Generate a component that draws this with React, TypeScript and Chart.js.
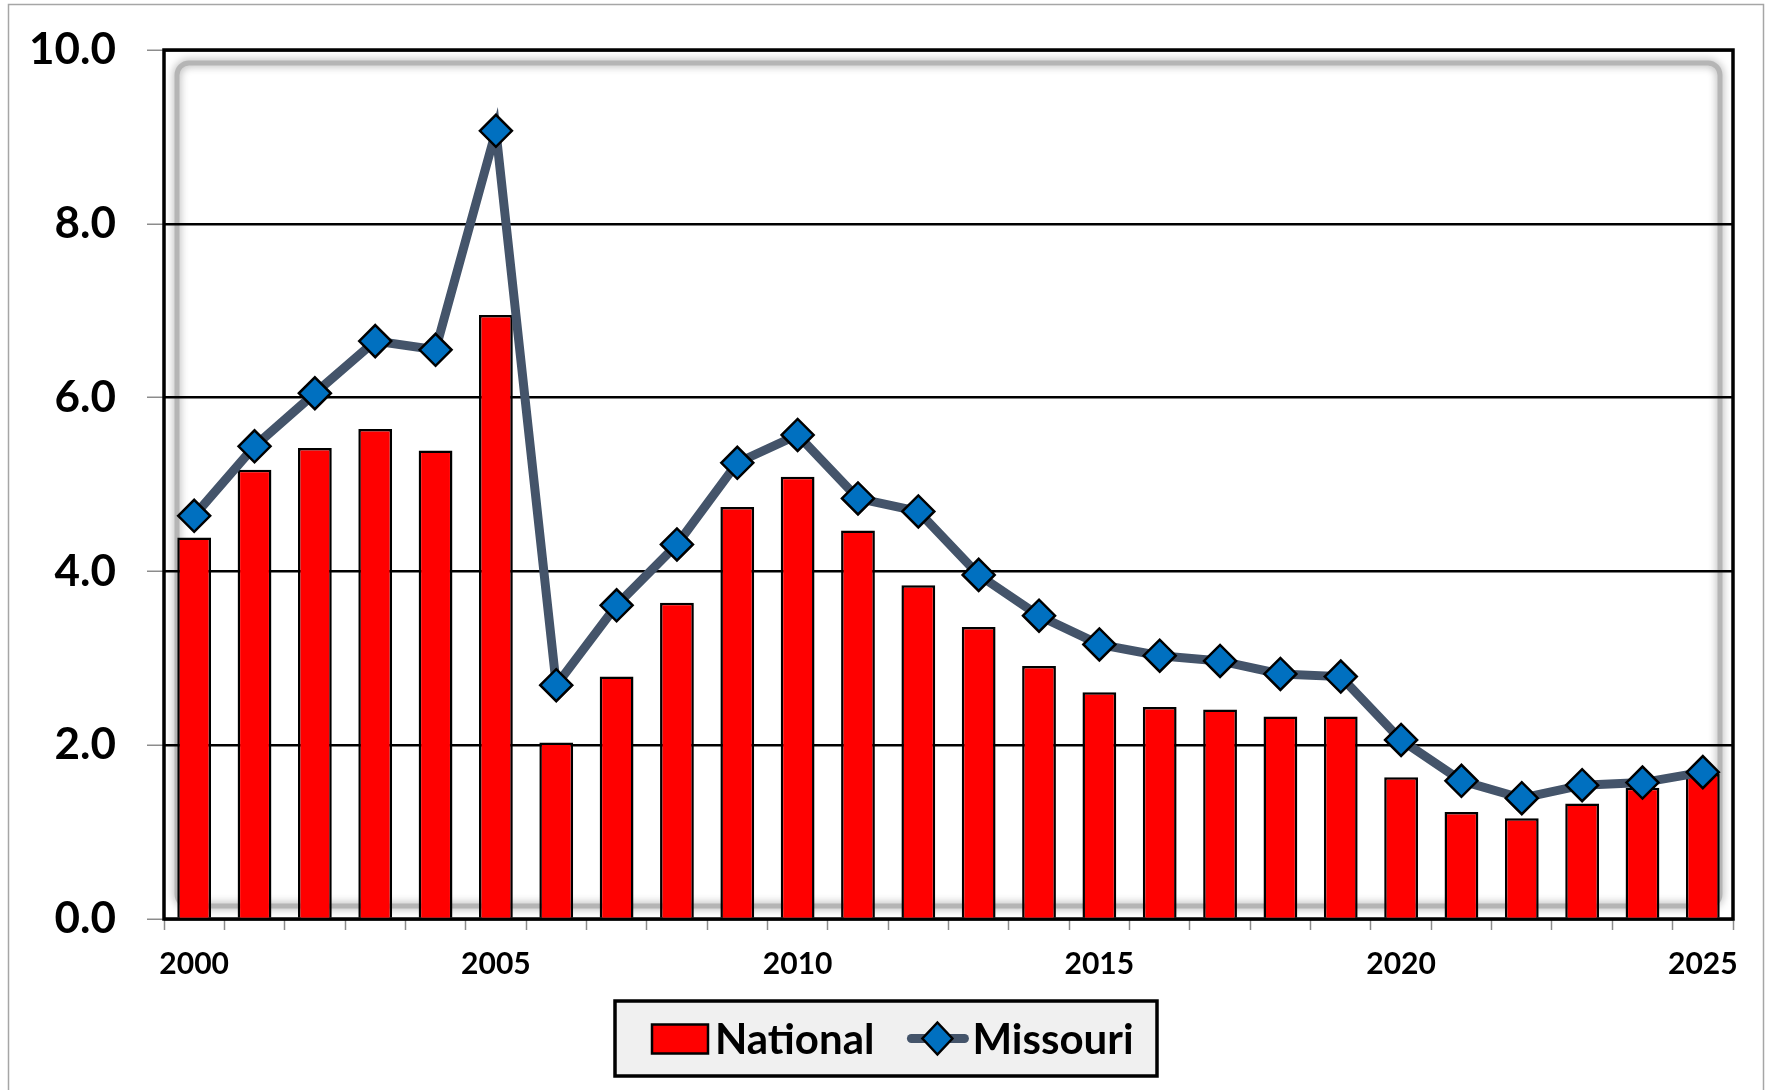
import React, { useEffect, useRef } from "react";
import { Chart, registerables } from "chart.js";

Chart.register(...registerables);

const years = [
  "2000", "2001", "2002", "2003", "2004", "2005", "2006", "2007", "2008", "2009",
  "2010", "2011", "2012", "2013", "2014", "2015", "2016", "2017", "2018", "2019",
  "2020", "2021", "2022", "2023", "2024", "2025",
];

const nationalValues = [
  4.39, 5.17, 5.42, 5.64, 5.39, 6.95, 2.03, 2.79, 3.64, 4.74,
  5.09, 4.47, 3.84, 3.36, 2.91, 2.61, 2.44, 2.41, 2.33, 2.33,
  1.63, 1.23, 1.16, 1.33, 1.51, 1.67,
];

const missouriValues = [
  4.64, 5.44, 6.05, 6.65, 6.55, 9.07, 2.69, 3.61, 4.31, 5.25,
  5.57, 4.84, 4.69, 3.96, 3.49, 3.16, 3.03, 2.97, 2.82, 2.79,
  2.06, 1.59, 1.39, 1.54, 1.57, 1.69,
];

const yTicks = [0, 2, 4, 6, 8, 10];

const FONT = "Lato, 'Open Sans', 'Liberation Sans', sans-serif";

const decorPlugin = {
  id: "decor",
  beforeDraw(chart: any) {
    const { ctx, chartArea } = chart;
    const { left, top, right, bottom } = chartArea;
    ctx.save();
    ctx.fillStyle = "#ffffff";
    ctx.fillRect(0, 0, chart.width, chart.height);
    ctx.strokeStyle = "#a6a6a6";
    ctx.lineWidth = 1.5;
    ctx.strokeRect(8.5, 4.5, 1755, 1200);
    const inset = 13;
    ctx.shadowColor = "rgba(0,0,0,0.45)";
    ctx.shadowBlur = 9;
    ctx.strokeStyle = "rgba(175,175,175,0.85)";
    ctx.lineWidth = 5;
    ctx.beginPath();
    (ctx as any).roundRect(left + inset, top + inset, right - left - 2 * inset, bottom - top - 2 * inset, 12);
    ctx.stroke();
    ctx.restore();
  },
  beforeDatasetsDraw(chart: any) {
    const { ctx, chartArea } = chart;
    const { left, top, right, bottom } = chartArea;
    ctx.save();
    ctx.strokeStyle = "#000000";
    ctx.lineWidth = 3.5;
    ctx.strokeRect(left, top, right - left, bottom - top);
    ctx.restore();
  },
  afterDraw(chart: any) {
    const { ctx } = chart;
    ctx.save();
    const bx = 615, by = 1001, bw = 542, bh = 75;
    ctx.fillStyle = "#f0f0f0";
    ctx.fillRect(bx, by, bw, bh);
    ctx.strokeStyle = "#000000";
    ctx.lineWidth = 3.5;
    ctx.strokeRect(bx, by, bw, bh);
    const cy = by + bh / 2;
    ctx.font = `bold 42px ${FONT}`;
    ctx.textBaseline = "middle";
    ctx.textAlign = "left";
    let x = 652;
    chart.data.datasets.forEach((ds: any) => {
      if (ds.type === "bar") {
        ctx.fillStyle = ds.backgroundColor;
        ctx.fillRect(x, cy - 14, 56, 29);
        ctx.strokeStyle = "#000";
        ctx.lineWidth = 2.5;
        ctx.strokeRect(x, cy - 14, 56, 29);
        x += 63;
      } else {
        ctx.strokeStyle = ds.borderColor;
        ctx.lineWidth = 9;
        ctx.lineCap = "round";
        ctx.beginPath();
        ctx.moveTo(x + 4, cy);
        ctx.lineTo(x + 57, cy);
        ctx.stroke();
        const mx = x + 30;
        ctx.beginPath();
        ctx.moveTo(mx, cy - 16);
        ctx.lineTo(mx + 15, cy);
        ctx.lineTo(mx, cy + 16);
        ctx.lineTo(mx - 15, cy);
        ctx.closePath();
        ctx.fillStyle = ds.pointBackgroundColor;
        ctx.fill();
        ctx.strokeStyle = "#000";
        ctx.lineWidth = 2.5;
        ctx.lineCap = "butt";
        ctx.stroke();
        x += 65;
      }
      ctx.fillStyle = "#000";
      ctx.fillText(ds.label, x, cy + 2);
      x += ctx.measureText(ds.label).width + 33;
    });
    ctx.restore();
  },
};

export default function App() {
  const ref = useRef<HTMLCanvasElement | null>(null);

  useEffect(() => {
    if (!ref.current) return;
    const chart = new Chart(ref.current, {
      type: "bar",
      data: {
        labels: years,
        datasets: [
          {
            type: "bar",
            label: "National",
            data: nationalValues,
            backgroundColor: "#ff0000",
            borderColor: "#000000",
            borderWidth: 2.5,
            barPercentage: 0.56,
            categoryPercentage: 1,
            order: 1,
          } as any,
          {
            type: "line",
            label: "Missouri",
            data: missouriValues,
            borderColor: "#44546a",
            borderWidth: 9,
            pointStyle: "rectRot",
            pointRadius: 16,
            pointBackgroundColor: "#0070c0",
            pointBorderColor: "#000000",
            pointBorderWidth: 2.5,
            tension: 0,
            order: 0,
          } as any,
        ],
      },
      options: {
        animation: false,
        responsive: false,
        maintainAspectRatio: false,
        layout: { padding: { left: 0, top: 50, right: 37, bottom: 0 } },
        plugins: {
          legend: { display: false },
          tooltip: { enabled: false },
        },
        scales: {
          x: {
            type: "category",
            offset: true,
            afterFit: (s: any) => {
              s.height = 171;
              s.paddingLeft = 0;
              s.paddingRight = 0;
            },
            grid: {
              display: true,
              offset: true,
              drawOnChartArea: false,
              drawTicks: true,
              tickLength: 11,
              tickColor: "#8c8c8c",
              tickWidth: 1.5,
            },
            border: { display: false },
            ticks: {
              autoSkip: false,
              maxRotation: 0,
              padding: 16,
              color: "#000000",
              font: { family: FONT, weight: "bold", size: 30 },
              callback: (_v: any, i: number) => (i % 5 === 0 ? years[i] : ""),
            },
          },
          y: {
            min: 0,
            max: 10,
            afterFit: (s: any) => {
              s.width = 164;
              s.paddingTop = 0;
              s.paddingBottom = 0;
            },
            afterBuildTicks: (s: any) => {
              s.ticks = yTicks.map((v) => ({ value: v }));
            },
            grid: {
              color: "#000000",
              lineWidth: 2.5,
              drawTicks: true,
              tickLength: 17,
              tickColor: "#8c8c8c",
              tickWidth: 1.5,
            },
            border: { display: false },
            ticks: {
              padding: 31,
              color: "#000000",
              font: { family: FONT, weight: "bold", size: 44 },
              callback: (v: any) => Number(v).toFixed(1),
            },
          },
        },
      },
      plugins: [decorPlugin],
    });
    return () => chart.destroy();
  }, []);

  return (
    <canvas
      ref={ref}
      width={1770}
      height={1090}
      style={{ position: "absolute", left: 0, top: 0, width: 1770, height: 1090 }}
    />
  );
}
